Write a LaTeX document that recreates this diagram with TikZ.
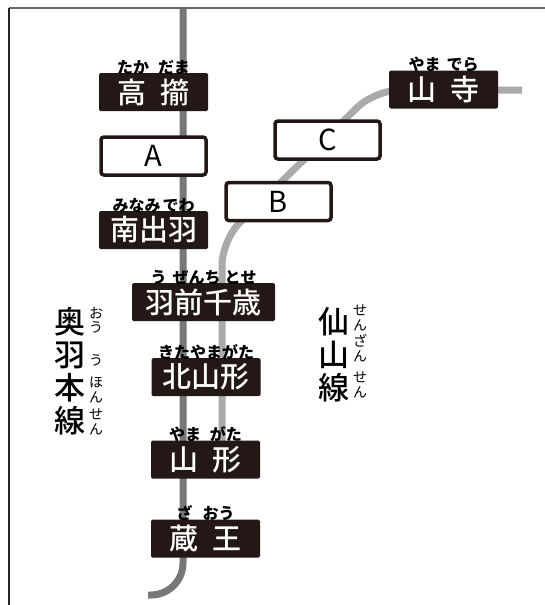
\documentclass[tikz,border=0pt]{standalone}
\usepackage{fontspec}
\setmainfont{Noto Sans CJK JP}
\newfontfamily\jpmedium{Noto Sans CJK JP}[UprightFont=* Medium]
\newfontfamily\jpblack{Noto Sans CJK JP}[UprightFont=* Black]
\usepackage{xcolor}
\usetikzlibrary{positioning}

\definecolor{boxblack}{HTML}{231815}
\definecolor{ougray}{HTML}{777777}
\definecolor{senzangray}{HTML}{AAAAAA}

\tikzset{
	station/.style={fill=boxblack, text=white, rounded corners=1.5pt, minimum width=109pt,
	minimum height=38pt, inner sep=0pt, font=\jpmedium\fontsize{29}{29}\selectfont},
	stopbox/.style={draw=boxblack, line width=3.5pt, fill=white, rounded corners=3pt,
	minimum width=105pt, minimum height=38pt, inner sep=0pt, font=\fontsize{29}{29}\selectfont},
	ruby/.style={inner sep=0pt, anchor=south, font=\jpblack\fontsize{16}{16}\selectfont},
	linename/.style={inner sep=0pt, align=center, font=\jpmedium\fontsize{31}{33}\selectfont},
	vruby/.style={inner sep=0pt, align=center, font=\fontsize{14}{14.5}\selectfont},
	railline/.style={line width=7pt}
}

\begin{document}
\begin{tikzpicture}[x=1pt, y=-1pt]
	\useasboundingbox (0,0) rectangle (545,605);
	\fill[white] (0,0) rectangle (545,605);
	% frame
	\draw[line width=2pt, black!60] (9,8) -- (545,8);
	\draw[line width=2pt, black!85] (9,8) -- (9,605);
	% lines
	\coordinate (ounorth) at (183,9);
	\coordinate (ousouth) at (148,595);
	\coordinate (senzaneast) at (522,90);
	\coordinate (senzanbendA) at (375,90);
	\coordinate (senzanbendB) at (222,240);
	\coordinate (senzanend) at (222,460);
	\draw[railline, ougray, rounded corners=32pt] (ounorth) -- (ounorth |- ousouth) -- (ousouth);
	\draw[railline, senzangray, rounded corners=25pt] (senzaneast) -- (senzanbendA) -- (senzanbendB) -- (senzanend);
	% stations
	\node[station] (takadama) at (153.5,92) {高\hspace{15pt}擶};
	\node[station] (yamadera) at (443.5,89.5) {山\hspace{15pt}寺};
	\node[station] (minamidewa) at (153.5,230) {南出羽};
	\node[station, minimum width=143pt] (uzenchitose) at (203.5,302) {羽前千歳};
	\node[station] (kitayamagata) at (206,377) {北山形};
	\node[station] (yamagata) at (205.5,459.5) {山\hspace{15pt}形};
	\node[station] (zao) at (205.5,538.5) {蔵\hspace{15pt}王};
	% blank stops
	\node[stopbox] (stopA) at (153.5,156) {A};
	\node[stopbox] (stopB) at (278.5,201.5) {B};
	\node[stopbox] (stopC) at (327.5,140) {C};
	% ruby
	\node[ruby] (takadamaruby) at ([yshift=-2pt]takadama.north) {たか\hspace{9pt}だま};
	\node[ruby] (yamaderaruby) at ([yshift=-2pt]yamadera.north) {やま\hspace{6pt}でら};
	\node[ruby] (minamidewaruby) at ([yshift=-2pt]minamidewa.north) {みなみ\hspace{2pt}でわ};
	\node[ruby] (uzenchitoseruby) at ([yshift=-2pt]uzenchitose.north) {う\hspace{6pt}ぜんち\hspace{4pt}とせ};
	\node[ruby] (kitayamagataruby) at ([yshift=-2pt]kitayamagata.north) {きたやまがた};
	\node[ruby] (yamagataruby) at ([yshift=-2pt]yamagata.north) {やま\hspace{9pt}がた};
	\node[ruby] (zaoruby) at ([yshift=-2pt]zao.north) {ざ\hspace{10pt}おう};
	% line names
	\node[linename] (ouname) at (70,371.5) {奥\\羽\\本\\線};
	\node[vruby] (ourubyA) at (96,320) {お\\う};
	\node[vruby] (ourubyB) at (96,360) {う};
	\node[vruby] (ourubyC) at (96,390) {ほ\\ん};
	\node[vruby] (ourubyD) at (96,422) {せ\\ん};
	\node[linename] (senzanname) at (334,355) {仙\\山\\線};
	\node[vruby] (senzanrubyA) at (360,318) {せ\\ん};
	\node[vruby] (senzanrubyB) at (360,348) {ざ\\ん};
	\node[vruby] (senzanrubyC) at (360,385) {せ\\ん};
\end{tikzpicture}
\end{document}
